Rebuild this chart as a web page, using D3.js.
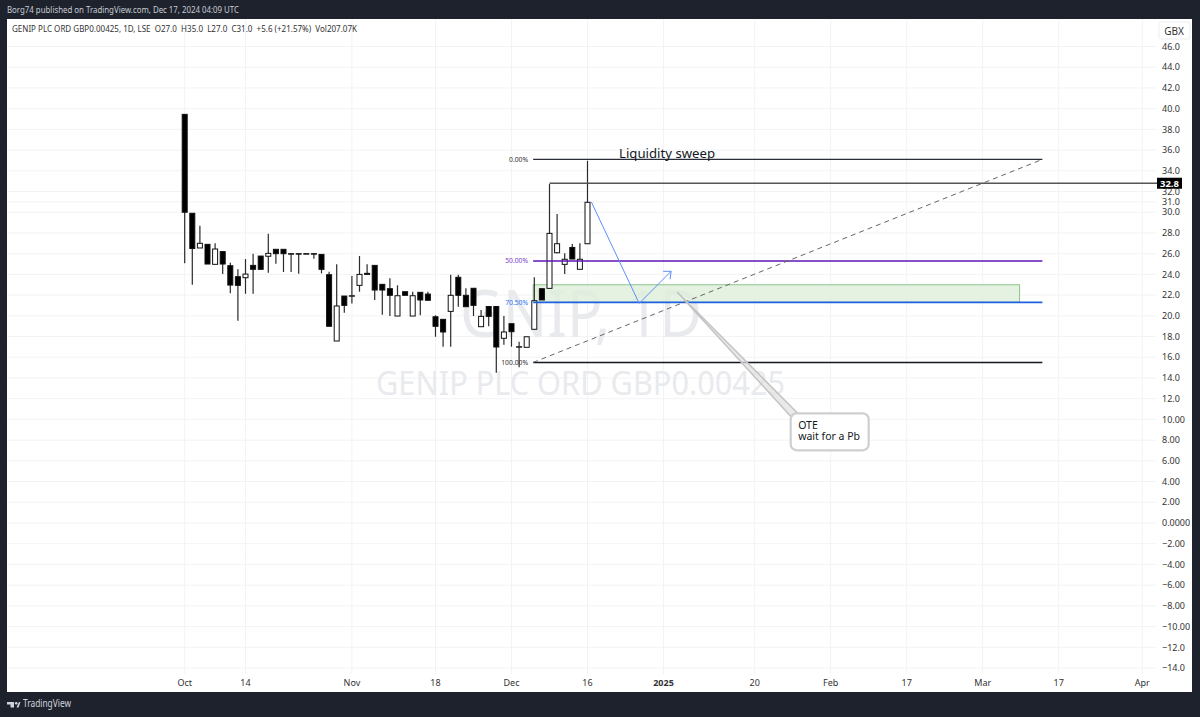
<!DOCTYPE html>
<html>
<head>
<meta charset="utf-8">
<script src="https://cdn.jsdelivr.net/npm/d3@7/dist/d3.min.js"></script>
<style>
  html, body { margin: 0; padding: 0; background: #1e222d; }
  svg { display: block; }
  text { font-family: "Noto Sans", "Open Sans", sans-serif; }
</style>
</head>
<body>
<div id="vis"></div>
<script>
// daily candles, one entry per bar
let opens  = [39.45,29.9,26.55,26.9,24.97,26.2,24.84,23.78,23.68,24.87,25.77,25.75,26.42,26.42,26.0,26.0,26.0,26.0,25.93,23.97,17.57,21.91,21.9,22.94,24.1,24.87,23.04,22.62,19.98,22.33,19.98,22.27,22.1,19.91,19.66,20.43,23.72,21.98,22.66,18.95,20.9,20.9,17.83,19.24,17.0,16.96,18.7,22.62,22.65,26.09,24.97,26.6,24.49,26.96];
let highs  = [39.45,29.9,28.7,26.9,27.0,26.2,25.13,24.49,25.48,26.0,25.77,27.93,26.42,26.42,26.0,26.0,26.0,26.0,25.93,24.26,24.97,21.91,23.84,25.77,24.97,24.87,23.04,23.62,22.94,22.33,22.33,22.27,22.33,20.05,19.66,23.97,23.97,22.66,22.66,20.56,20.9,20.9,19.98,19.24,17.5,17.98,23.72,22.62,32.72,29.83,26.03,26.93,27.0,34.97];
let lows   = [25.07,23.0,26.55,25.0,24.97,24.03,22.17,19.53,22.13,22.13,24.49,24.16,25.03,24.23,24.23,24.07,26.0,25.5,24.1,18.99,17.57,20.3,21.2,22.33,24.0,21.53,20.1,19.98,19.98,21.98,19.98,20.05,21.5,17.98,17.02,17.02,20.88,20.88,19.98,18.95,19.0,14.51,17.21,17.02,15.03,16.96,18.7,21.53,22.65,26.03,24.03,25.48,24.49,26.96];
let closes = [30.0,26.5,27.0,25.0,26.45,25.0,22.97,22.94,24.03,24.49,24.49,26.03,26.0,26.0,26.0,26.0,26.0,26.0,24.49,18.99,20.95,21.01,21.94,24.0,24.0,22.49,22.49,21.98,21.94,21.98,21.94,21.53,21.5,18.99,18.44,21.98,21.98,20.88,21.01,19.95,19.95,16.99,18.44,18.47,17.02,17.98,21.46,21.53,27.96,26.96,25.46,25.48,25.46,30.96];

// price axis
let priceTicks = [46,44,42,40,38,36,34,32,31,30,28,26,24,22,20,18,16,14,12,10,8,6,4,2,0,-2,-4,-6,-8,-10,-12,-14];
let priceLabels = ["46.0","44.0","42.0","40.0","38.0","36.0","34.0","32.0","31.0","30.0","28.0","26.0","24.0","22.0","20.0","18.0","16.0","14.0","12.0","10.00","8.00","6.00","4.00","2.00","0.0000","\u22122.00","\u22124.00","\u22126.00","\u22128.00","\u221210.00","\u221212.0","\u221214.0"];

// time axis, as bar numbers counted from the first candle
let timeTicks = [0,8,22,33,43,53,63,75,85,95,105,115,126];
let timeLabels = ["Oct","14","Nov","18","Dec","16","2025","20","Feb","17","Mar","17","Apr"];
let timeBold = ["2025"];

// fib levels drawn on the chart
let fibLabels = ["0.00%","50.00%","70.50%","100.00%"];
let fibPrices = [35.1,25.3,21.3,15.5];
let fibColors = ["#2a2e39","#5e17b5","#1e62e0","#131722"];
let fibStart = 45.85, fibEnd = 112.85;

// green zone, sweep line, arrow and callout anchor
let zonePrices = [23.0,21.3];
let zoneEnd = 109.85;
let sweepStart = 48, sweepPrice = 32.8;
let arrowBars = [53.5,59.8,64];
let arrowPrices = [31.0,21.2,24.3];
let calloutBar = 64.8, calloutPrice = 22.3;
let calloutBoxBar = 84.8, calloutBoxPrice = 8.8;
let calloutLines = ["OTE","wait for a Pb"];

let width = 1200, height = 717;
let panel = { left: 7, top: 19, right: 1192, bottom: 692 };
let plotRight = 1156;

let x = d3.scaleLinear().domain([0, 126]).range([184.7, 1142.3]);
let y = d3.scaleLinear().domain([46, 0]).range([46.5, 523]);

let svg = d3.select('#vis')
  .append('svg')
  .attr('width', width)
  .attr('height', height)
  .attr('viewBox', [0, 0, width, height].join(' '))
  .style('background-color', '#1e222d');

// header strip
svg.append('text')
  .attr('x', 7).attr('y', 13)
  .attr('font-size', 9.5)
  .attr('fill', '#c9ccd4')
  .attr('textLength', 232)
  .attr('lengthAdjust', 'spacingAndGlyphs')
  .text('Borg74 published on TradingView.com, Dec 17, 2024 04:09 UTC');

svg.append('rect')
  .attr('x', panel.left).attr('y', panel.top)
  .attr('width', panel.right - panel.left)
  .attr('height', panel.bottom - panel.top)
  .attr('fill', 'white');

// grid
svg.append('g').selectAll('line')
  .data(priceTicks)
  .join('line')
  .attr('x1', panel.left).attr('x2', plotRight)
  .attr('y1', d => y(d)).attr('y2', d => y(d))
  .attr('stroke', '#f2f3f5');

svg.append('g').selectAll('line')
  .data(timeTicks)
  .join('line')
  .attr('x1', d => x(d)).attr('x2', d => x(d))
  .attr('y1', panel.top).attr('y2', 674)
  .attr('stroke', '#f2f3f5');

// watermark
svg.append('text')
  .attr('x', 460).attr('y', 337)
  .attr('font-size', 66)
  .attr('fill', '#e8eaed')
  .attr('textLength', 242)
  .attr('lengthAdjust', 'spacingAndGlyphs')
  .text('GNIP, 1D');

svg.append('text')
  .attr('x', 376).attr('y', 395)
  .attr('font-size', 32)
  .attr('fill', '#e8eaed')
  .attr('textLength', 409)
  .attr('lengthAdjust', 'spacingAndGlyphs')
  .text('GENIP PLC ORD GBP0.00425');

// green zone sits under the candles
svg.append('rect')
  .attr('x', x(fibStart))
  .attr('y', y(zonePrices[0]))
  .attr('width', x(zoneEnd) - x(fibStart))
  .attr('height', y(zonePrices[1]) - y(zonePrices[0]))
  .attr('fill', '#dfeeda')
  .attr('fill-opacity', 0.8)
  .attr('stroke', '#8cc58a');

// candles
let bars = d3.range(opens.length);

svg.append('g').selectAll('line')
  .data(bars)
  .join('line')
  .attr('x1', i => x(i)).attr('x2', i => x(i))
  .attr('y1', i => y(highs[i])).attr('y2', i => y(lows[i]))
  .attr('stroke', '#2a2a2a')
  .attr('stroke-width', 1.2);

svg.append('g').selectAll('rect')
  .data(bars)
  .join('rect')
  .attr('x', i => x(i) - 2.5)
  .attr('width', 5)
  .attr('y', i => y(Math.max(opens[i], closes[i])))
  .attr('height', i => Math.max(0.5, Math.abs(y(opens[i]) - y(closes[i]))))
  .attr('fill', i => closes[i] > opens[i] ? 'white' : 'black')
  .attr('stroke', '#111');

// sweep line and its price tag
svg.append('line')
  .attr('x1', x(sweepStart)).attr('x2', plotRight + 1)
  .attr('y1', y(sweepPrice)).attr('y2', y(sweepPrice))
  .attr('stroke', '#555')
  .attr('stroke-width', 1.5);

// fib levels
svg.append('g').selectAll('line')
  .data(fibPrices)
  .join('line')
  .attr('x1', x(fibStart)).attr('x2', x(fibEnd))
  .attr('y1', d => y(d)).attr('y2', d => y(d))
  .attr('stroke', (d, i) => fibColors[i])
  .attr('stroke-width', (d, i) => i == 2 ? 1.8 : 1.4);

svg.append('g').selectAll('text')
  .data(fibLabels)
  .join('text')
  .attr('x', x(fibStart) - 5)
  .attr('y', (d, i) => y(fibPrices[i]) + 2.5)
  .attr('text-anchor', 'end')
  .attr('font-size', 6.8)
  .attr('fill', (d, i) => i == 1 ? '#7b3fd0' : i == 2 ? '#2f72ee' : '#333')
  .text(d => d);

// dashed fib trend line
svg.append('line')
  .attr('x1', x(fibStart)).attr('x2', x(fibEnd))
  .attr('y1', y(fibPrices[3])).attr('y2', y(fibPrices[0]))
  .attr('stroke', '#666')
  .attr('stroke-dasharray', '5 4');

// blue path with arrow head
let arrowPath = d3.line()
  .x((d, i) => x(arrowBars[i]))
  .y((d, i) => y(arrowPrices[i]));

svg.append('path')
  .attr('d', arrowPath(arrowBars))
  .attr('fill', 'none')
  .attr('stroke', '#5b8ff9');

let headBar = arrowBars[2], headPrice = arrowPrices[2];
svg.append('path')
  .attr('d', `M${x(headBar) - 8},${y(headPrice)} L${x(headBar)},${y(headPrice)} L${x(headBar) - 1},${y(headPrice) + 8}`)
  .attr('fill', 'none')
  .attr('stroke', '#5b8ff9');

svg.append('text')
  .attr('x', 619).attr('y', 158)
  .attr('font-size', 13.2)
  .attr('fill', '#131722')
  .text('Liquidity sweep');

// callout, box is placed around its anchor price
let boxX = x(calloutBoxBar) - 38.5, boxY = y(calloutBoxPrice) - 18.5;
let tipX = x(calloutBar), tipY = y(calloutPrice);

svg.append('path')
  .attr('d', `M${tipX},${tipY} L${boxX},${boxY + 3} L${boxX + 7},${boxY} Z`)
  .attr('fill', '#e2e2e2')
  .attr('fill-opacity', 0.75)
  .attr('stroke', '#c4c4c4')
  .attr('stroke-width', 1.5);

svg.append('rect')
  .attr('x', boxX).attr('y', boxY)
  .attr('width', 78).attr('height', 37)
  .attr('rx', 6)
  .attr('fill', 'white')
  .attr('stroke', '#cfcfcf')
  .attr('stroke-width', 2.2);

svg.append('g').selectAll('text')
  .data(calloutLines)
  .join('text')
  .attr('x', boxX + 7.5)
  .attr('y', (d, i) => boxY + 15.5 + i * 11.5)
  .attr('font-size', 10.5)
  .attr('fill', '#131722')
  .text(d => d);

// price axis
svg.append('g').selectAll('text')
  .data(priceLabels)
  .join('text')
  .attr('x', 1162)
  .attr('y', (d, i) => y(priceTicks[i]) + 3.2)
  .attr('font-size', 9)
  .attr('fill', '#333')
  .text(d => d);

svg.append('rect')
  .attr('x', 1157).attr('y', y(sweepPrice) - 5.5)
  .attr('width', 25).attr('height', 11)
  .attr('fill', 'black');

svg.append('text')
  .attr('x', 1169.5).attr('y', y(sweepPrice) + 3.3)
  .attr('text-anchor', 'middle')
  .attr('font-size', 9.5)
  .attr('font-weight', 'bold')
  .attr('fill', 'white')
  .text('32.8');

svg.append('rect')
  .attr('x', 1159).attr('y', 22)
  .attr('width', 31).attr('height', 17)
  .attr('rx', 2)
  .attr('fill', 'white')
  .attr('stroke', '#eceef2');

svg.append('text')
  .attr('x', 1174).attr('y', 34.5)
  .attr('text-anchor', 'middle')
  .attr('font-size', 10)
  .attr('fill', '#333')
  .text('GBX');

// time axis
svg.append('g').selectAll('text')
  .data(timeLabels)
  .join('text')
  .attr('x', (d, i) => x(timeTicks[i]))
  .attr('y', 686)
  .attr('text-anchor', 'middle')
  .attr('font-size', 9)
  .attr('font-weight', d => timeBold.includes(d) ? 'bold' : 'normal')
  .attr('fill', '#333')
  .text(d => d);

// legend line
svg.append('text')
  .attr('x', 12).attr('y', 32)
  .attr('font-size', 9.2)
  .attr('fill', '#333')
  .attr('textLength', 345)
  .attr('lengthAdjust', 'spacingAndGlyphs')
  .style('white-space', 'pre')
  .text('GENIP PLC ORD GBP0.00425, 1D, LSE  O27.0  H35.0  L27.0  C31.0  +5.6 (+21.57%)  Vol207.07K');

// footer logo
let logo = svg.append('g').attr('transform', 'translate(7,702)').attr('fill', '#d1d4dc');
logo.append('path').attr('d', 'M0,0 H7 V5.5 H3.5 V2.5 H0 Z');
logo.append('circle').attr('cx', 9.2).attr('cy', 1.3).attr('r', 1.3);
logo.append('path').attr('d', 'M9.5,5.5 L12,0 H13.5 L11.5,5.5 Z');

svg.append('text')
  .attr('x', 23).attr('y', 707)
  .attr('font-size', 10)
  .attr('fill', '#d1d4dc')
  .attr('textLength', 48)
  .attr('lengthAdjust', 'spacingAndGlyphs')
  .text('TradingView');
</script>
</body>
</html>
